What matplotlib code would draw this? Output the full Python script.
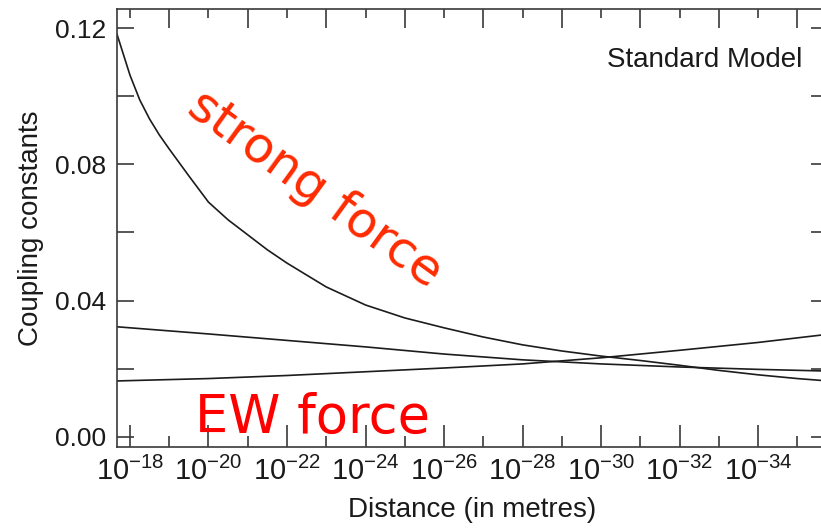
import matplotlib
matplotlib.use('Agg')
import matplotlib.pyplot as plt
import numpy as np
from matplotlib.ticker import FixedLocator, LogFormatterMathtext, NullFormatter

plt.rcParams['font.family'] = 'Liberation Sans'
plt.rcParams['mathtext.fontset'] = 'custom'
plt.rcParams['mathtext.rm'] = 'Liberation Sans'
plt.rcParams['mathtext.it'] = 'Liberation Sans:italic'
plt.rcParams['mathtext.bf'] = 'Liberation Sans:bold'

# log10(distance / m) and coupling values
strong_exp = [-17.67, -18, -18.25, -18.5, -18.75, -19, -19.5, -20, -20.5,
              -21, -21.5, -22, -23, -24, -25, -26, -27, -28, -29, -30, -31,
              -32, -33, -34, -35, -35.78]
strong_alpha = [0.1182, 0.1062, 0.0989, 0.0933, 0.0886, 0.0845, 0.0766,
                0.0689, 0.0637, 0.0593, 0.0549, 0.0510, 0.0440, 0.0387,
                0.0349, 0.0320, 0.0293, 0.0270, 0.0252, 0.0237, 0.0224,
                0.0210, 0.0195, 0.0182, 0.0171, 0.0164]

ew_exp = [-17.67, -20, -22, -24, -26, -28, -30, -32, -34, -35.78]
weak_alpha = [0.0323, 0.0302, 0.0283, 0.0264, 0.0243, 0.0226, 0.0214,
              0.0205, 0.0198, 0.0193]
hyper_alpha = [0.0164, 0.0171, 0.0180, 0.0191, 0.0202, 0.0214, 0.0232,
               0.0254, 0.0277, 0.0301]

bottom_major = list(range(-18, -35, -2))
bottom_minor = list(range(-19, -36, -2))
y_major = [0.0, 0.04, 0.08, 0.12]
y_minor = [0.02, 0.06, 0.10]

line_col = '#1c1c1c'
axis_col = '#3a3a3a'

fig = plt.figure(figsize=(8.21, 5.29), dpi=100)
ax = fig.add_axes([0.1425, 0.1556, 0.866, 0.8274])

for exps, vals in [(strong_exp, strong_alpha), (ew_exp, weak_alpha),
                   (ew_exp, hyper_alpha)]:
    ax.plot(10.0 ** np.array(exps), vals, color=line_col, lw=1.2)

ax.set_xscale('log')
xlim = (10.0 ** -17.67, 10.0 ** -35.78)
ax.set_xlim(xlim)
ax.set_ylim(-0.0029, 0.1256)

ax.xaxis.set_major_locator(FixedLocator([10.0 ** e for e in bottom_major]))
ax.xaxis.set_minor_locator(FixedLocator([10.0 ** e for e in bottom_minor]))
ax.xaxis.set_major_formatter(LogFormatterMathtext())
ax.xaxis.set_minor_formatter(NullFormatter())
ax.yaxis.set_major_locator(FixedLocator(y_major))
ax.yaxis.set_minor_locator(FixedLocator(y_minor))
ax.set_yticklabels(['{:.2f}'.format(v) for v in y_major])

for s in ax.spines.values():
    s.set_color(axis_col)
    s.set_linewidth(1.2)

ax.tick_params(axis='x', which='major', direction='in', length=15.8,
               width=1.2, color=axis_col, labelsize=21, pad=7,
               labelcolor='#1a1a1a')
ax.tick_params(axis='x', which='minor', direction='in', length=8,
               width=1.2, color=axis_col)
ax.tick_params(axis='y', which='both', direction='in', length=12.2,
               width=1.2, color=axis_col, left=True, right=True,
               labelsize=19, pad=8, labelcolor='#1a1a1a')

# top axis: long ticks at odd decades, short at even ones
top = ax.twiny()
top.set_xscale('log')
top.set_xlim(xlim)
top.xaxis.set_major_locator(FixedLocator([10.0 ** e for e in bottom_minor]))
top.xaxis.set_minor_locator(FixedLocator([10.0 ** e for e in bottom_major]))
top.xaxis.set_major_formatter(NullFormatter())
top.xaxis.set_minor_formatter(NullFormatter())
top.tick_params(axis='x', which='major', direction='in', length=13.7,
                width=1.2, color=axis_col)
top.tick_params(axis='x', which='minor', direction='in', length=6.5,
                width=1.2, color=axis_col)
for s in top.spines.values():
    s.set_visible(False)

ax.set_xlabel('Distance (in metres)', fontsize=20, color='#1a1a1a')
ax.set_ylabel('Coupling constants', fontsize=20, color='#1a1a1a')
ax.xaxis.set_label_coords(0.5, -0.115)
ax.yaxis.set_label_coords(-0.102, 0.5)

ax.text(0.9634, 0.8675, 'Standard Model', transform=ax.transAxes,
        ha='right', va='baseline', fontsize=20, color='#1a1a1a')

fig.text(0.2253, 0.7883, 'strong force', rotation=-36, rotation_mode='anchor',
         ha='left', va='baseline', fontsize=36, color='#ff2a00',
         family='DejaVu Sans')
fig.text(0.2375, 0.1815, 'EW force', ha='left', va='baseline', fontsize=38,
         color='#ff0000', family='DejaVu Sans')

fig.savefig('out.png', dpi=100)
